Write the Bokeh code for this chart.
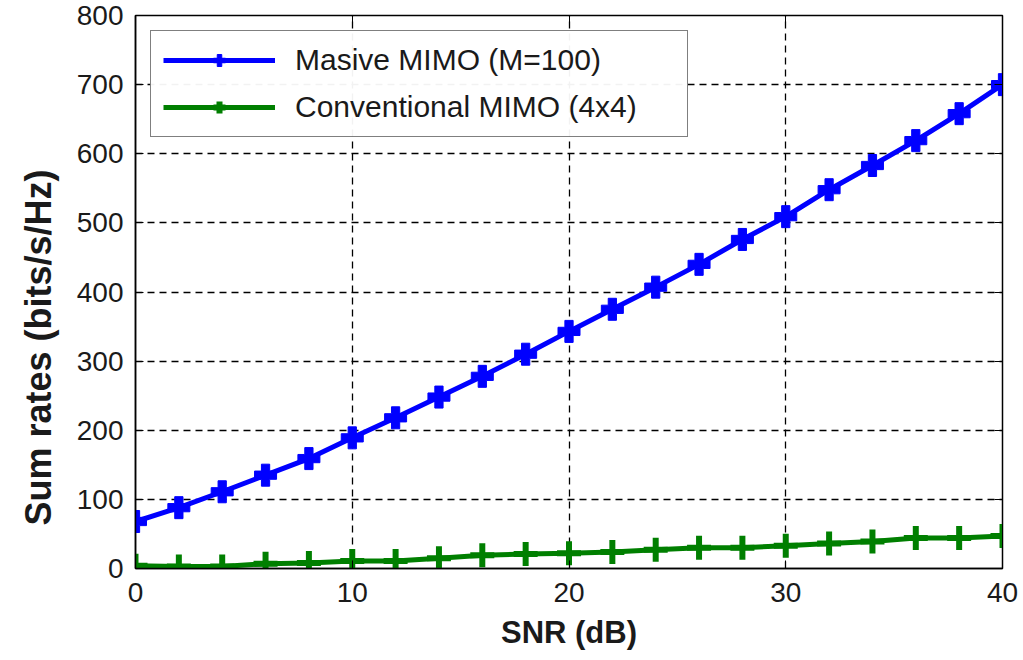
from bokeh.plotting import figure
from bokeh.embed import file_html
from bokeh.resources import INLINE
from bokeh.models import FixedTicker, Legend, LegendItem, LinearAxis, Range1d, Title

snr_db = [0, 2, 4, 6, 8, 10, 12, 14, 16, 18, 20, 22, 24, 26, 28, 30, 32, 34, 36, 38, 40]
massive_mimo = [68, 88, 111, 135, 159, 189, 218, 248, 278, 310, 343, 375, 407, 440, 476, 509, 548, 583, 619, 658, 700]
conventional_mimo = [4, 3, 3, 7, 8, 11, 11, 15, 19, 21, 22, 24, 27, 30, 30, 33, 36, 39, 44, 44, 47]
x_ticks = [0, 10, 20, 30, 40]
y_ticks = [0, 100, 200, 300, 400, 500, 600, 700, 800]
x_label = "SNR (dB)"
y_label = "Sum rates (bits/s/Hz)"

FONT = "Liberation Sans"
TXT = "#1a1a1a"

p = figure(width=1023, height=660, output_backend="svg", toolbar_location=None,
           x_range=Range1d(0, 40), y_range=Range1d(0, 800),
           min_border_left=10, min_border_right=21, min_border_top=15, min_border_bottom=92)
p.outline_line_color = "black"
p.outline_line_width = 1.5
p.background_fill_color = "white"
p.border_fill_color = "white"

for ax in (p.xaxis[0], p.yaxis[0]):
    ax.major_label_text_font = FONT
    ax.major_label_text_font_size = "28px"
    ax.major_label_text_color = TXT
    ax.axis_label_text_font = FONT
    ax.axis_label_text_font_size = "31px"
    ax.axis_label_text_font_style = "bold"
    ax.axis_label_text_color = TXT
    ax.major_tick_in = 8
    ax.major_tick_out = 0
    ax.minor_tick_line_color = None
    ax.axis_line_color = "black"
    ax.axis_line_width = 1.5
    ax.major_tick_line_color = "black"

p.xaxis.ticker = FixedTicker(ticks=x_ticks)
p.yaxis.ticker = FixedTicker(ticks=y_ticks)
p.xaxis.axis_label = x_label
p.xaxis.major_label_standoff = 14
p.xaxis.axis_label_standoff = 10
p.yaxis.major_label_standoff = 12

# y axis title placed like the reference (slightly below the frame centre)
ytitle = Title(text=y_label, align="left", offset=43, standoff=30,
               text_font=FONT, text_font_size="36px", text_font_style="bold",
               text_color=TXT)
p.add_layout(ytitle, "left")

# mirror ticks on top and right
top = LinearAxis(ticker=FixedTicker(ticks=x_ticks), major_label_text_font_size="0px",
                 major_tick_in=8, major_tick_out=0, minor_tick_line_color=None)
right = LinearAxis(ticker=FixedTicker(ticks=y_ticks), major_label_text_font_size="0px",
                   major_tick_in=8, major_tick_out=0, minor_tick_line_color=None)
p.add_layout(top, "above")
p.add_layout(right, "right")

p.grid.grid_line_color = "black"
p.grid.grid_line_dash = "7 5"
p.grid.grid_line_width = 1.3
p.xgrid.ticker = FixedTicker(ticks=x_ticks)
p.ygrid.ticker = FixedTicker(ticks=y_ticks)

l1 = p.line(snr_db, massive_mimo, line_color="#0000ff", line_width=5)
m1 = p.scatter(snr_db, massive_mimo, marker="plus", size=22, fill_color="#0000ff", line_color="#0000ff")
l2 = p.line(snr_db, conventional_mimo, line_color="#007f00", line_width=5)
m2 = p.scatter(snr_db, conventional_mimo, marker="cross", size=24, line_color="#007f00", line_width=6)

legend = Legend(items=[LegendItem(label="Masive MIMO (M=100)", renderers=[l1, m1]),
                       LegendItem(label="Conventional MIMO (4x4)", renderers=[l2, m2])],
                location="top_left")
legend.label_text_font = FONT
legend.label_text_font_size = "30px"
legend.label_text_color = TXT
legend.glyph_width = 112
legend.glyph_height = 30
legend.label_height = 30
legend.label_width = 380
legend.spacing = 13
legend.padding = 12
legend.margin = 15
legend.border_line_color = "black"
legend.border_line_width = 1.5
legend.label_standoff = 20
p.add_layout(legend)

open("out.html", "w").write(file_html(p, INLINE))
